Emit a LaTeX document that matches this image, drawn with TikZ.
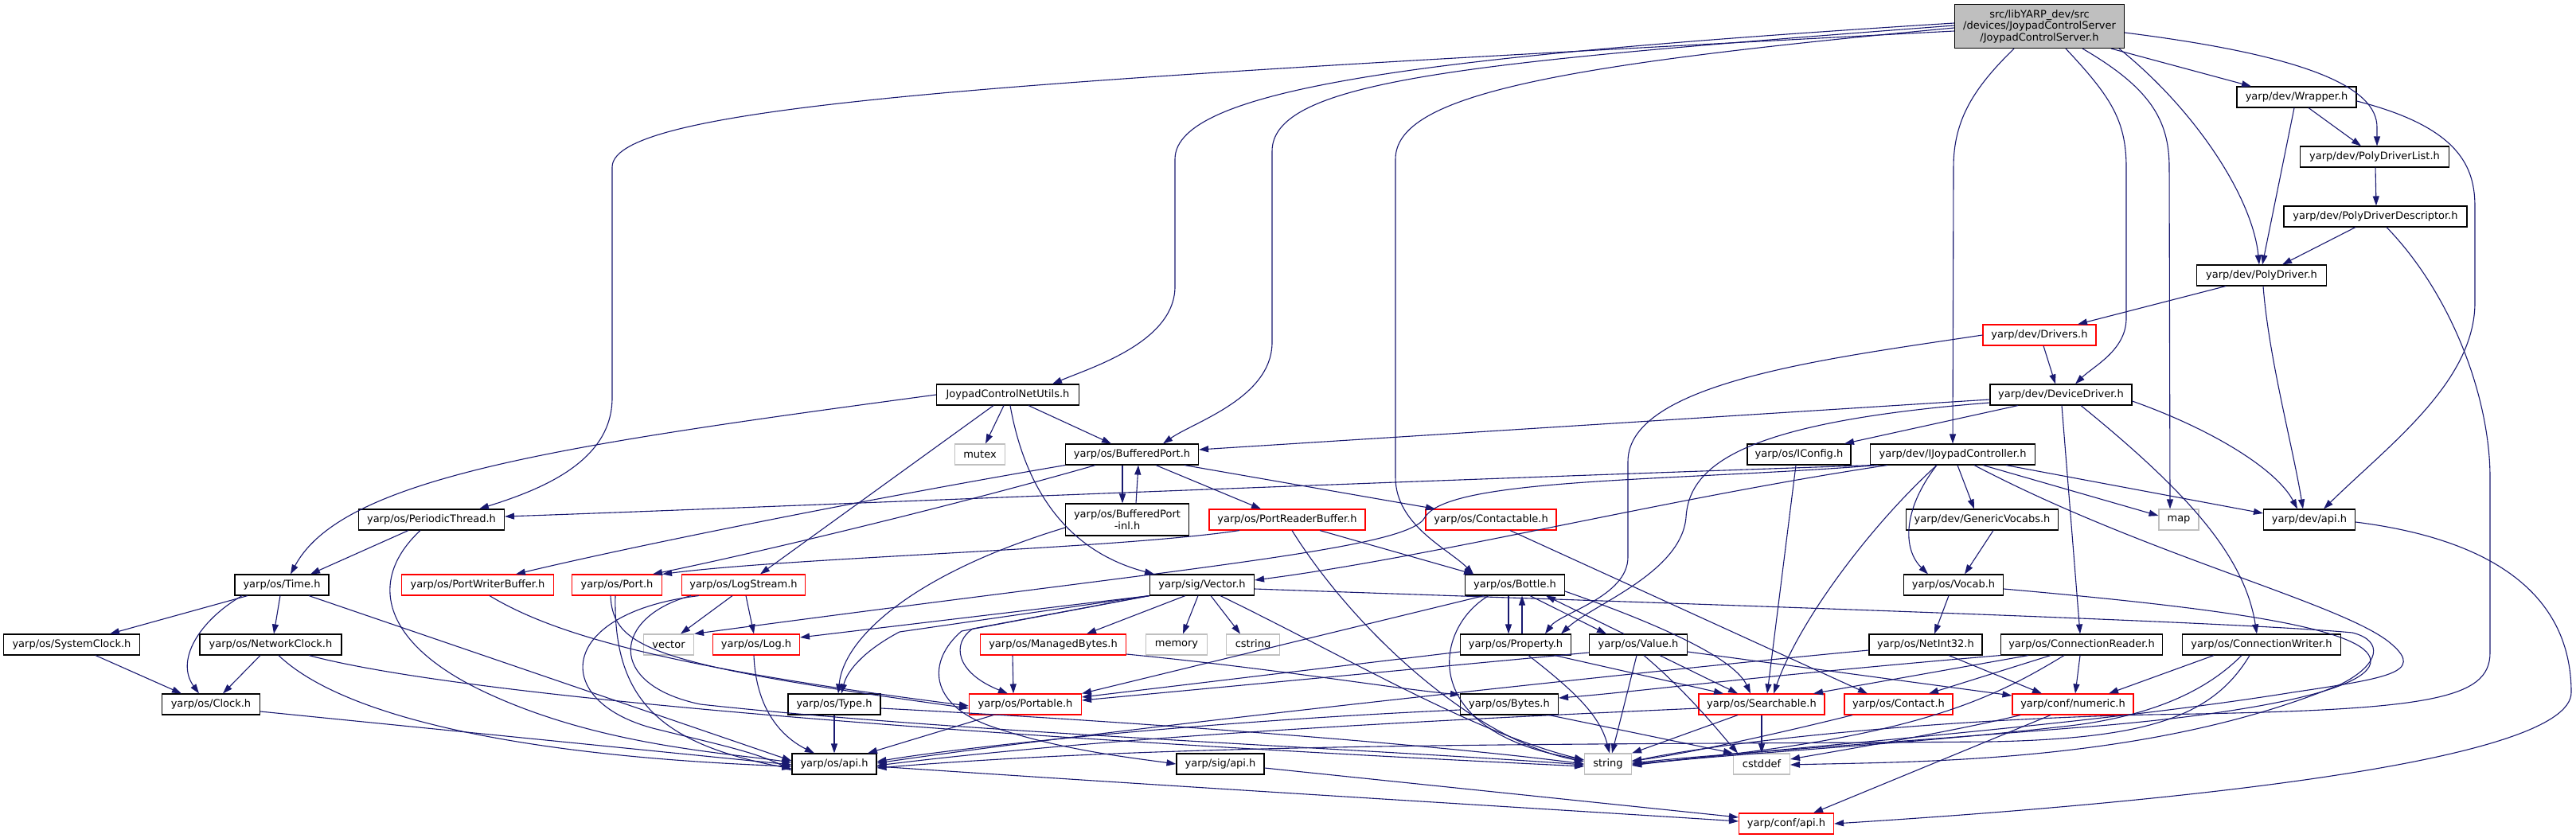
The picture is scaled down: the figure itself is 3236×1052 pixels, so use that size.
\documentclass[tikz,border=0pt]{standalone}
\usepackage{fontspec}
\setmainfont{DejaVu Sans}
\usetikzlibrary{arrows.meta}
\definecolor{edgec}{HTML}{191970}
\definecolor{greyb}{HTML}{BFBFBF}
\tikzset{
  nd/.style={draw=black, line width=1.1pt, fill=white, minimum height=26pt, inner xsep=2pt, inner ysep=0pt, font=\fontsize{13}{14.5}\selectfont, text=black},
  rednd/.style={nd, draw=red},
  extnd/.style={nd, draw=greyb},
  e/.style={draw=edgec, line width=1.1pt, -{Triangle[length=12pt,width=8pt]}},
}
\begin{document}
\begin{tikzpicture}[x=1pt,y=-1pt]
\useasboundingbox (0,0) rectangle (3236,1052);
% ---------- nodes ----------
\node[nd, fill=greyb, minimum width=213pt, minimum height=55pt, align=center] (main) at (2562,33) {src/libYARP\_dev/src\\/devices/JoypadControlServer\\/JoypadControlServer.h};
\node[nd, minimum width=150pt] (wrapper) at (2885,122) {yarp/dev/Wrapper.h};
\node[nd, minimum width=187pt] (pdlist) at (2983,197) {yarp/dev/PolyDriverList.h};
\node[nd, minimum width=230pt] (pddesc) at (2984,272) {yarp/dev/PolyDriverDescriptor.h};
\node[nd, minimum width=163pt] (polydrv) at (2841,346) {yarp/dev/PolyDriver.h};
\node[rednd, minimum width=142pt] (drivers) at (2562,421) {yarp/dev/Drivers.h};
\node[nd, minimum width=179pt] (jcnu) at (1266,496) {JoypadControlNetUtils.h};
\node[nd, minimum width=178pt] (devdrv) at (2589,496) {yarp/dev/DeviceDriver.h};
\node[extnd, minimum width=63pt] (mutex) at (1231,571) {mutex};
\node[nd, minimum width=167pt] (bport) at (1422,571) {yarp/os/BufferedPort.h};
\node[nd, minimum width=130pt] (iconfig) at (2260,571) {yarp/os/IConfig.h};
\node[nd, minimum width=207pt] (ijoy) at (2453,571) {yarp/dev/IJoypadController.h};
\node[nd, minimum width=183pt] (pthread) at (542,653) {yarp/os/PeriodicThread.h};
\node[nd, minimum width=155pt, minimum height=40pt, align=center] (bpinl) at (1416,653) {yarp/os/BufferedPort\\-inl.h};
\node[rednd, minimum width=196pt] (prbuf) at (1617,653) {yarp/os/PortReaderBuffer.h};
\node[rednd, minimum width=164pt] (contactable) at (1873,653) {yarp/os/Contactable.h};
\node[nd, minimum width=191pt] (genvoc) at (2490,653) {yarp/dev/GenericVocabs.h};
\node[extnd, minimum width=50pt] (map) at (2737,653) {map};
\node[nd, minimum width=115pt] (devapi) at (2901,653) {yarp/dev/api.h};
\node[nd, minimum width=118pt] (time) at (354,735) {yarp/os/Time.h};
\node[rednd, minimum width=191pt] (pwbuf) at (600,735) {yarp/os/PortWriterBuffer.h};
\node[rednd, minimum width=113pt] (port) at (775,735) {yarp/os/Port.h};
\node[rednd, minimum width=155pt] (logstream) at (934,735) {yarp/os/LogStream.h};
\node[nd, minimum width=131pt] (vecsig) at (1510,735) {yarp/sig/Vector.h};
\node[nd, minimum width=125pt] (bottle) at (1903,735) {yarp/os/Bottle.h};
\node[nd, minimum width=125pt] (vocab) at (2454,735) {yarp/os/Vocab.h};
\node[nd, minimum width=171pt] (sysclock) at (90,810) {yarp/os/SystemClock.h};
\node[nd, minimum width=178pt] (netclock) at (340,810) {yarp/os/NetworkClock.h};
\node[extnd, minimum width=63pt] (vecstd) at (840,810) {vector};
\node[rednd, minimum width=109pt] (log) at (950,810) {yarp/os/Log.h};
\node[rednd, minimum width=183pt] (mbytes) at (1323,810) {yarp/os/ManagedBytes.h};
\node[extnd, minimum width=77pt] (memory) at (1478,810) {memory};
\node[extnd, minimum width=67pt] (cstring) at (1574,810) {cstring};
\node[nd, minimum width=139pt] (property) at (1904,810) {yarp/os/Property.h};
\node[nd, minimum width=123pt] (value) at (2058,810) {yarp/os/Value.h};
\node[nd, minimum width=142pt] (netint) at (2419,810) {yarp/os/NetInt32.h};
\node[nd, minimum width=203pt] (connreader) at (2615,810) {yarp/os/ConnectionReader.h};
\node[nd, minimum width=199pt] (connwriter) at (2841,810) {yarp/os/ConnectionWriter.h};
\node[nd, minimum width=123pt] (clock) at (265,885) {yarp/os/Clock.h};
\node[nd, minimum width=116pt] (type) at (1048,885) {yarp/os/Type.h};
\node[rednd, minimum width=141pt] (portable) at (1288,885) {yarp/os/Portable.h};
\node[nd, minimum width=123pt] (bytes) at (1896,885) {yarp/os/Bytes.h};
\node[rednd, minimum width=158pt] (searchable) at (2213,885) {yarp/os/Searchable.h};
\node[rednd, minimum width=136pt] (contact) at (2385,885) {yarp/os/Contact.h};
\node[rednd, minimum width=152pt] (numeric) at (2604,885) {yarp/conf/numeric.h};
\node[nd, minimum width=106pt] (osapi) at (1048,960) {yarp/os/api.h};
\node[nd, minimum width=110pt] (sigapi) at (1533,960) {yarp/sig/api.h};
\node[extnd, minimum width=59pt] (string) at (2020,960) {string};
\node[extnd, minimum width=71pt] (cstddef) at (2213,960) {cstddef};
\node[rednd, minimum width=119pt] (confapi) at (2244,1035) {yarp/conf/api.h};
% ---------- edges from main ----------
\draw[e] ([yshift=-6pt]main.west) .. controls (1300,100) and (769,130) .. (769,210) -- (769,500) .. controls (769,580) and (680,615) .. ([xshift=60pt]pthread.north);
\draw[e] ([yshift=4pt]main.west) .. controls (1800,70) and (1476,110) .. (1476,200) -- (1476,360) .. controls (1476,430) and (1370,462) .. ([xshift=56pt]jcnu.north);
\draw[e] ([yshift=1pt]main.west) .. controls (1850,78) and (1598,100) .. (1598,190) -- (1598,430) .. controls (1598,500) and (1500,530) .. ([xshift=39pt]bport.north);
\draw[e] ([yshift=-2pt]main.west) .. controls (1950,82) and (1753,120) .. (1753,200) -- (1753,600) .. controls (1753,660) and (1820,690) .. ([xshift=-52pt]bottle.north);
\draw[e] ([xshift=-32pt]main.south) .. controls (2480,110) and (2454,150) .. (2454,210) -- (ijoy.north);
\draw[e] ([xshift=33pt]main.south) .. controls (2650,120) and (2671,150) .. (2671,210) -- (2671,400) .. controls (2671,440) and (2630,460) .. ([xshift=18pt]devdrv.north);
\draw[e] ([xshift=54pt]main.south) .. controls (2700,110) and (2725,150) .. (2725,210) -- ([xshift=-11pt]map.north);
\draw[e] ([xshift=100pt]main.south) .. controls (2760,140) and (2830,250) .. ([xshift=-3pt]polydrv.north);
\draw[e] ([xshift=90pt]main.south) -- ([xshift=-57pt]wrapper.north);
\draw[e] ([yshift=-8pt]main.east) .. controls (2900,70) and (2986,110) .. (2986,160) -- ([xshift=3pt]pdlist.north);
% ---------- upper right ----------
\draw[e] ([xshift=15pt]wrapper.south) -- ([xshift=-17pt]pdlist.north);
\draw[e] ([xshift=-3pt]wrapper.south) -- ([xshift=1pt]polydrv.north);
\draw[e] ([yshift=-5pt]wrapper.east) .. controls (3090,160) and (3109,210) .. (3109,260) -- (3109,380) .. controls (3109,480) and (3000,560) .. ([xshift=18pt]devapi.north);
\draw[e] ([xshift=1pt]pdlist.south) -- ([xshift=1pt]pddesc.north);
\draw[e] ([xshift=-25pt]pddesc.south) -- ([xshift=26pt]polydrv.north);
\draw[e] ([xshift=14pt]pddesc.south) .. controls (3080,370) and (3128,500) .. (3128,600) -- (3128,820) .. controls (3128,880) and (3050,893) .. (2700,898) .. controls (2400,905) and (2150,935) .. ([yshift=3pt]string.east);
\draw[e] ([xshift=-45pt]polydrv.south) -- ([xshift=48pt]drivers.north);
\draw[e] ([xshift=2pt]polydrv.south) .. controls (2850,450) and (2880,560) .. ([xshift=-8pt]devapi.north);
\draw[e] ([xshift=5pt]drivers.south) -- ([xshift=-7pt]devdrv.north);
\draw[e] (drivers.west) .. controls (2300,450) and (2045,480) .. (2045,580) -- (2045,700) .. controls (2045,750) and (1960,770) .. ([xshift=37pt]property.north);
% ---------- DeviceDriver ----------
\draw[e] ([yshift=-6pt]devdrv.west) -- ([yshift=6pt]bport.east);
\draw[e] ([yshift=-10pt]devdrv.west) .. controls (2200,530) and (2122,580) .. (2118,650) .. controls (2112,720) and (2000,760) .. ([xshift=57pt]property.north);
\draw[e] ([xshift=-54pt]devdrv.south) -- ([xshift=57pt]iconfig.north);
\draw[e] ([xshift=1pt]devdrv.south) -- ([xshift=-2pt]connreader.north);
\draw[e] ([xshift=25pt]devdrv.south) .. controls (2750,620) and (2820,700) .. ([xshift=-6pt]connwriter.north);
\draw[e] ([yshift=-8pt]devdrv.east) .. controls (2780,540) and (2860,590) .. ([xshift=-15pt]devapi.north);
\draw[e] ([xshift=-4pt]iconfig.south) -- ([xshift=7pt]searchable.north);
% ---------- IJoypadController ----------
\draw[e] ([xshift=4pt]ijoy.south west) .. controls (1600,610) and (900,640) .. ([yshift=4pt]pthread.east);
\draw[e] ([xshift=10pt]ijoy.south west) .. controls (2100,605) and (1820,600) .. (1790,650) .. controls (1770,690) and (1500,712) .. (vecstd.north east);
\draw[e] ([xshift=22pt]ijoy.south west) .. controls (2100,625) and (1800,700) .. ([yshift=6pt]vecsig.east);
\draw[e] ([xshift=6pt]ijoy.south) -- ([xshift=-10pt]genvoc.north);
\draw[e] ([xshift=-20pt]ijoy.south) .. controls (2390,640) and (2390,690) .. ([xshift=-32pt]vocab.north);
\draw[e] ([xshift=-20pt]ijoy.south) .. controls (2350,660) and (2260,780) .. ([xshift=15pt]searchable.north);
\draw[e] ([xshift=38pt]ijoy.south) -- ([yshift=5pt]map.west);
\draw[e] ([xshift=67pt]ijoy.south) -- ([yshift=8pt]devapi.west);
\draw[e] ([xshift=27pt]ijoy.south) .. controls (2700,700) and (2950,760) .. (3005,810) .. controls (3045,845) and (3000,852) .. (2880,870) .. controls (2600,915) and (2200,942) .. ([yshift=-2pt]string.east);
% ---------- Vocab ----------
\draw[e] ([xshift=14pt]genvoc.south) -- ([xshift=14pt]vocab.north);
\draw[e] ([xshift=-6pt]vocab.south) -- ([xshift=11pt]netint.north);
\draw[e] ([yshift=-5pt]vocab.east) .. controls (2800,765) and (2975,790) .. (2978,830) .. controls (2980,870) and (2800,900) .. (2600,915) .. controls (2350,935) and (2150,948) .. ([yshift=1pt]string.east);
% ---------- JoypadControlNetUtils ----------
\draw[e] (jcnu.west) .. controls (700,560) and (430,600) .. ([xshift=11pt]time.north);
\draw[e] ([xshift=-5pt]jcnu.south) -- ([xshift=7pt]mutex.north);
\draw[e] ([xshift=26pt]jcnu.south) -- ([xshift=-26pt]bport.north);
\draw[e] ([xshift=-18pt]jcnu.south) -- ([xshift=21pt]logstream.north);
\draw[e] ([xshift=3pt]jcnu.south) .. controls (1285,600) and (1330,690) .. ([xshift=-60pt]vecsig.north);
% ---------- BufferedPort ----------
\draw[e] ([xshift=-12pt]bport.south) -- ([xshift=-6pt]bpinl.north);
\draw[e] ([xshift=11pt]bpinl.north) -- ([xshift=8pt]bport.south);
\draw[e] ([xshift=30pt]bport.south) -- ([xshift=-33pt]prbuf.north);
\draw[e] ([xshift=66pt]bport.south) -- ([xshift=-70pt]contactable.north);
\draw[e] (bport.south west) .. controls (1100,625) and (800,685) .. ([xshift=48pt]pwbuf.north);
\draw[e] ([xshift=-46pt]bport.south) .. controls (1200,635) and (950,695) .. ([xshift=45pt]port.north);
\draw[e] ([yshift=-10pt]bpinl.west) .. controls (1150,720) and (1060,800) .. ([xshift=5pt]type.north);
\draw[e] ([xshift=-60pt]prbuf.south) .. controls (1400,690) and (1000,700) .. (port.north east);
\draw[e] ([xshift=41pt]prbuf.south) -- ([xshift=-52pt]bottle.north);
\draw[e] ([xshift=6pt]prbuf.south) .. controls (1700,790) and (1850,930) .. ([yshift=3pt]string.west);
\draw[e] ([xshift=24pt]contactable.south) -- ([xshift=-39pt]contact.north);
% ---------- left cluster ----------
\draw[e] ([xshift=-29pt]pthread.south) -- ([xshift=36pt]time.north);
\draw[e] ([xshift=-14pt]pthread.south) .. controls (460,730) and (480,810) .. (612,871) .. controls (750,935) and (900,945) .. ([yshift=2pt]osapi.west);
\draw[e] ([xshift=-43pt]time.south) -- ([xshift=48pt]sysclock.north);
\draw[e] ([xshift=-50pt]time.south) .. controls (250,780) and (220,830) .. ([xshift=-15pt]clock.north);
\draw[e] ([xshift=-2pt]time.south) -- ([xshift=4pt]netclock.north);
\draw[e] ([xshift=34pt]time.south) -- ([yshift=4pt]osapi.west);
\draw[e] ([xshift=30pt]sysclock.south) -- ([xshift=-37pt]clock.north);
\draw[e] ([xshift=-13pt]netclock.south) -- ([xshift=15pt]clock.north);
\draw[e] ([xshift=48pt]netclock.south) .. controls (600,880) and (1300,930) .. ([yshift=-3pt]string.west);
\draw[e] ([xshift=10pt]netclock.south) .. controls (430,900) and (650,950) .. ([yshift=-3pt]osapi.west);
\draw[e] ([yshift=-9pt]clock.east) -- ([yshift=-1pt]osapi.west);
\draw[e] ([xshift=-2pt]port.south) .. controls (770,880) and (830,935) .. ([yshift=-6pt]osapi.west);
\draw[e] ([xshift=-8pt]port.south) .. controls (770,815) and (820,835) .. ([yshift=-5pt]portable.west);
\draw[e] ([xshift=15pt]pwbuf.south) .. controls (700,800) and (850,840) .. ([yshift=-2pt]portable.west);
\draw[e] ([xshift=-14pt]logstream.south) -- ([xshift=15pt]vecstd.north);
\draw[e] ([xshift=3pt]logstream.south) -- ([xshift=-3pt]log.north);
\draw[e] ([xshift=-56pt]logstream.south) .. controls (700,770) and (690,880) .. (820,915) .. controls (900,935) and (950,945) .. ([yshift=-8pt]osapi.west);
\draw[e] ([xshift=-66pt]logstream.south) .. controls (770,775) and (760,860) .. (880,885) .. controls (1200,920) and (1700,940) .. ([yshift=-1pt]string.west);
\draw[e] ([xshift=-3pt]log.south) .. controls (950,900) and (990,930) .. ([xshift=-25pt]osapi.north);
\draw[e] (type.south) -- (osapi.north);
\draw[e] ([yshift=-5pt]type.east) .. controls (1400,905) and (1800,935) .. ([yshift=0pt]string.west);
\draw[e] ([xshift=-40pt]portable.south) -- ([xshift=42pt]osapi.north);
% ---------- sig/Vector ----------
\draw[e] (vecsig.south west) -- ([yshift=9pt]log.east);
\draw[e] ([xshift=-21pt]vecsig.south) -- ([xshift=42pt]mbytes.north);
\draw[e] ([xshift=-5pt]vecsig.south) -- ([xshift=8pt]memory.north);
\draw[e] ([xshift=11pt]vecsig.south) -- ([xshift=-16pt]cstring.north);
\draw[e] (vecsig.south west) -- (1130,794) .. controls (1090,815) and (1065,840) .. ([xshift=9pt]type.north);
\draw[e] (vecsig.south west) -- (1222,790) .. controls (1195,808) and (1200,845) .. ([xshift=-22pt]portable.north);
\draw[e] (vecsig.south west) -- (1208,793) .. controls (1165,830) and (1165,885) .. (1246,913) .. controls (1330,942) and (1420,952) .. (sigapi.west);
\draw[e] ([xshift=23pt]vecsig.south) .. controls (1700,830) and (1850,920) .. ([yshift=5pt]string.west);
\draw[e] ([yshift=-5pt]vecsig.east) .. controls (2000,755) and (2800,780) .. (2955,795) .. controls (2995,805) and (2990,835) .. (2940,860) .. controls (2700,960) and (2400,957) .. ([yshift=-1pt]cstddef.east);
% ---------- Bottle / Property / Value ----------
\draw[e] ([xshift=-8pt]bottle.south) -- ([xshift=-9pt]property.north);
\draw[e] ([xshift=8pt]property.north) -- ([xshift=9pt]bottle.south);
\draw[e] ([xshift=19pt]bottle.south) -- ([xshift=-40pt]value.north);
\draw[e] ([xshift=-18pt]value.north) -- ([xshift=39pt]bottle.south);
\draw[e] ([yshift=-8pt]bottle.east) .. controls (2100,790) and (2180,830) .. ([xshift=-14pt]searchable.north);
\draw[e] ([xshift=-33pt]bottle.south) .. controls (1800,790) and (1780,920) .. ([yshift=5pt]string.west);
\draw[e] ([xshift=-39pt]bottle.south) -- (portable.north east);
\draw[e] ([xshift=16pt]property.south) .. controls (1980,870) and (2010,900) .. ([xshift=2pt]string.north);
\draw[e] ([xshift=49pt]property.south) -- ([xshift=-48pt]searchable.north);
\draw[e] ([yshift=-9pt]property.west) -- ([yshift=9pt]portable.east);
\draw[e] ([xshift=-2pt]value.south) -- ([xshift=5pt]string.north);
\draw[e] ([xshift=7pt]value.south) .. controls (2120,870) and (2160,920) .. ([xshift=-30pt]cstddef.north);
\draw[e] ([xshift=27pt]value.south) -- ([xshift=-30pt]searchable.north);
\draw[e] ([yshift=-10pt]value.west) -- ([yshift=5pt]portable.east);
\draw[e] ([yshift=-9pt]value.east) -- ([yshift=11pt]numeric.west);
% ---------- Bytes, Searchable, etc. ----------
\draw[e] ([yshift=-7pt]bytes.west) .. controls (1500,907) and (1200,940) .. ([yshift=3pt]osapi.east);
\draw[e] ([xshift=50pt]bytes.south) -- (cstddef.north west);
\draw[e] ([xshift=-51pt]mbytes.south) -- ([xshift=-15pt]portable.north);
\draw[e] ([yshift=-12pt]mbytes.east) .. controls (1600,840) and (1750,865) .. ([yshift=12pt]bytes.west);
\draw[e] (searchable.south) -- (cstddef.north);
\draw[e] ([xshift=-30pt]searchable.south) -- (string.north east);
\draw[e] ([yshift=-5pt]searchable.west) .. controls (1800,905) and (1400,925) .. ([yshift=-2pt]osapi.east);
\draw[e] ([xshift=-58pt]contact.south) .. controls (2200,930) and (2100,950) .. ([yshift=4pt]string.east);
\draw[e] ([xshift=-28pt]numeric.south) -- ([xshift=34pt]confapi.north);
\draw[e] ([xshift=-66pt]numeric.south) .. controls (2450,920) and (2300,945) .. ([yshift=6pt]cstddef.east);
\draw[e] ([xshift=29pt]netint.south) -- ([xshift=-39pt]numeric.north);
\draw[e] ([yshift=-7pt]netint.west) .. controls (2100,840) and (1400,915) .. ([yshift=1pt]osapi.east);
\draw[e] (connreader.south west) .. controls (2200,850) and (2050,870) .. ([yshift=8pt]bytes.east);
\draw[e] ([xshift=-67pt]connreader.south) -- ([xshift=65pt]searchable.north);
\draw[e] ([xshift=-39pt]connreader.south) -- ([xshift=38pt]contact.north);
\draw[e] ([xshift=-2pt]connreader.south) -- ([xshift=3pt]numeric.north);
\draw[e] ([xshift=-22pt]connreader.south) .. controls (2500,880) and (2400,930) .. (string.east);
\draw[e] ([xshift=-60pt]connwriter.south) -- ([xshift=45pt]numeric.north);
\draw[e] ([xshift=-25pt]connwriter.south) .. controls (2770,870) and (2700,900) .. (2600,912) .. controls (2400,935) and (2200,945) .. ([yshift=-1pt]string.east);
\draw[e] ([xshift=-15pt]connwriter.south) .. controls (2780,900) and (2700,928) .. (2500,932) .. controls (2000,936) and (1500,932) .. ([yshift=-5pt]osapi.east);
% ---------- api ----------
\draw[e] ([yshift=-5pt]sigapi.east) -- ([yshift=8pt]confapi.west);
\draw[e] ([yshift=-3pt]osapi.east) .. controls (1500,990) and (2000,1020) .. ([yshift=3pt]confapi.west);
\draw[e] ([yshift=-3pt]devapi.east) .. controls (3150,680) and (3230,760) .. (3230,870) .. controls (3230,960) and (2700,1010) .. (confapi.east);
\end{tikzpicture}
\end{document}
